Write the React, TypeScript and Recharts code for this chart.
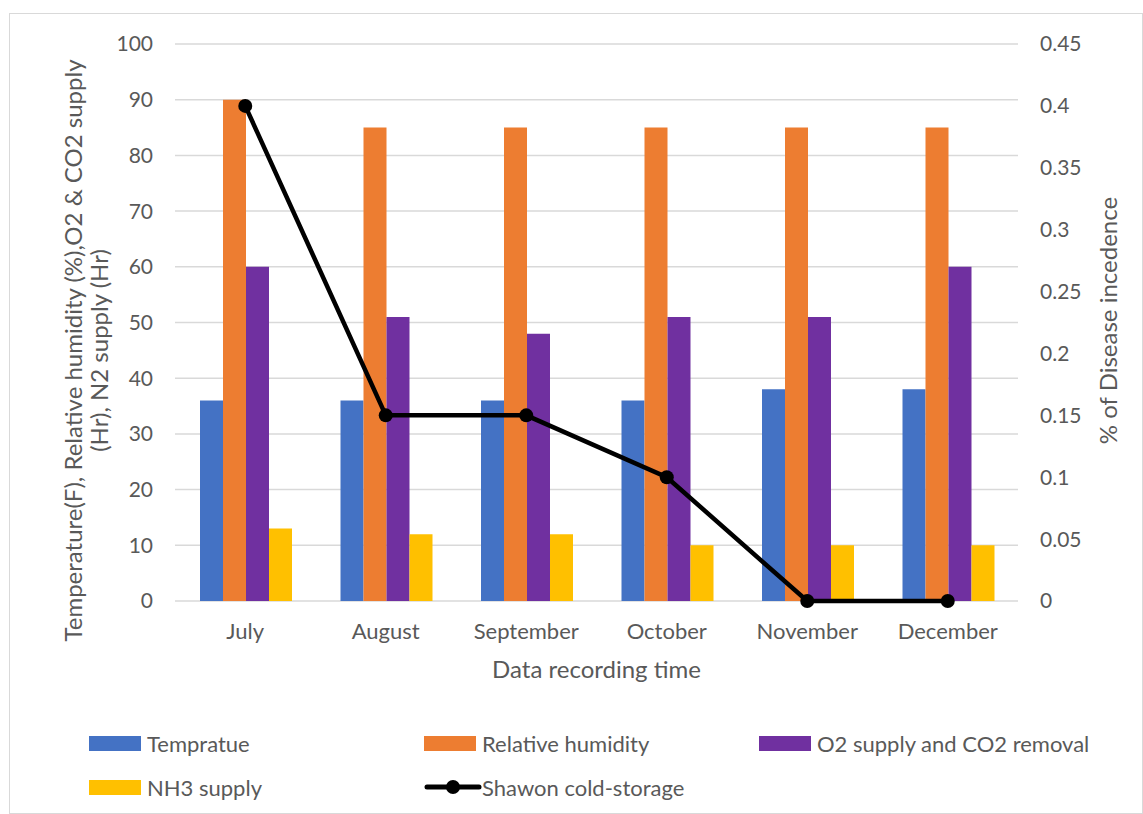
import React from 'react';
import {
  ComposedChart,
  Bar,
  Line,
  XAxis,
  YAxis,
  CartesianGrid,
  Legend,
} from 'recharts';

const months = ['July', 'August', 'September', 'October', 'November', 'December'];
const temperature = [36, 36, 36, 36, 38, 38];
const humidity = [90, 85, 85, 85, 85, 85];
const o2Supply = [60, 51, 48, 51, 51, 60];
const nh3Supply = [13, 12, 12, 10, 10, 10];
const diseaseIncidence = [0.4, 0.15, 0.15, 0.1, 0, 0];

const leftTicks = [0, 10, 20, 30, 40, 50, 60, 70, 80, 90, 100];
const rightTicks = [0, 0.05, 0.1, 0.15, 0.2, 0.25, 0.3, 0.35, 0.4, 0.45];

const data = months.map((month, i) => ({
  month,
  temperature: temperature[i],
  humidity: humidity[i],
  o2: o2Supply[i],
  nh3: nh3Supply[i],
  disease: diseaseIncidence[i],
}));

// series order as the legend shows it
const series = [
  { key: 'temperature', name: 'Tempratue', color: '#4472C4', type: 'bar' },
  { key: 'humidity', name: 'Relative humidity', color: '#ED7D31', type: 'bar' },
  { key: 'o2', name: 'O2 supply and CO2 removal', color: '#7030A0', type: 'bar' },
  { key: 'nh3', name: 'NH3 supply', color: '#FFC000', type: 'bar' },
  { key: 'disease', name: 'Shawon cold-storage', color: '#000000', type: 'line' },
];

const FONT = 'Lato, "Open Sans", sans-serif';
const TEXT = '#595959';
const GRID = '#d9d9d9';

const LeftAxisTitle = (props: any) => {
  const { viewBox } = props;
  const cy = viewBox.y + viewBox.height / 2 + 28;
  return (
    <g>
      <text
        x={72}
        y={cy}
        transform={`rotate(-90, 72, ${cy})`}
        textAnchor="middle"
        dominantBaseline="central"
        fill={TEXT}
        fontSize={24}
        fontFamily={FONT}
      >
        Temperature(F), Relative humidity (%),O2 &amp; CO2 supply
      </text>
      <text
        x={98}
        y={cy}
        transform={`rotate(-90, 98, ${cy})`}
        textAnchor="middle"
        dominantBaseline="central"
        fill={TEXT}
        fontSize={24}
        fontFamily={FONT}
      >
        (Hr), N2 supply (Hr)
      </text>
    </g>
  );
};

const RightAxisTitle = (props: any) => {
  const { viewBox } = props;
  const cy = viewBox.y + viewBox.height / 2 - 2;
  return (
    <text
      x={1107}
      y={cy}
      transform={`rotate(-90, 1107, ${cy})`}
      textAnchor="middle"
      dominantBaseline="central"
      fill={TEXT}
      fontSize={24}
      fontFamily={FONT}
    >
      % of Disease incedence
    </text>
  );
};

const ChartLegend = () => (
  <div
    style={{
      display: 'grid',
      gridTemplateColumns: '335px 335px 335px',
      gridAutoRows: '26px',
      rowGap: 18,
      height: 70,
      paddingLeft: 89,
      fontFamily: FONT,
      fontSize: 22,
      color: TEXT,
    }}
  >
    {series.map((s) => (
      <div key={s.key} style={{ display: 'flex', alignItems: 'center', height: 26 }}>
        {s.type === 'line' ? (
          <svg width={58} height={16} style={{ marginRight: 0 }}>
            <line x1={3} y1={8} x2={55} y2={8} stroke={s.color} strokeWidth={5} strokeLinecap="round" />
            <circle cx={29} cy={8} r={7} fill={s.color} />
          </svg>
        ) : (
          <div style={{ width: 52, height: 15, background: s.color, marginRight: 6 }} />
        )}
        <span>{s.name}</span>
      </div>
    ))}
  </div>
);

export default function App() {
  return (
    <div style={{ position: 'absolute', left: 0, top: 0, width: 1143, height: 814, background: '#fff' }}>
      <div
        style={{
          position: 'absolute',
          left: 9,
          top: 13,
          width: 1134,
          height: 801,
          border: `1px solid ${GRID}`,
          boxSizing: 'border-box',
        }}
      />
      <ComposedChart
        width={1143}
        height={814}
        data={data}
        margin={{ top: 44, right: 0, bottom: 53, left: 0 }}
        barGap={0}
        barCategoryGap={25}
        style={{ position: 'absolute', left: 0, top: 0 }}
      >
        <CartesianGrid vertical={false} stroke={GRID} strokeWidth={1.5} yAxisId="left" />
        <XAxis
          dataKey="month"
          tickLine={false}
          axisLine={false}
          tick={{ fill: TEXT, fontSize: 22, fontFamily: FONT }}
          tickMargin={16}
          height={90}
          label={{
            value: 'Data recording time',
            position: 'insideTop',
            offset: 60,
            fill: TEXT,
            fontSize: 24,
            fontFamily: FONT,
          }}
        />
        <YAxis
          yAxisId="left"
          domain={[0, 100]}
          ticks={leftTicks}
          width={175}
          axisLine={false}
          tickLine={false}
          tickMargin={16}
          tick={{ fill: TEXT, fontSize: 21, fontFamily: FONT }}
          label={<LeftAxisTitle />}
        />
        <YAxis
          yAxisId="right"
          orientation="right"
          domain={[0, 0.45]}
          ticks={rightTicks}
          width={125}
          axisLine={false}
          tickLine={false}
          tickMargin={16}
          tick={{ fill: TEXT, fontSize: 21, fontFamily: FONT, textAnchor: 'start' }}
          label={<RightAxisTitle />}
        />
        <Legend
          verticalAlign="bottom"
          content={<ChartLegend />}
          wrapperStyle={{ top: 730, left: 0, bottom: 'auto', width: 1143 }}
        />
        {series
          .filter((s) => s.type === 'bar')
          .map((s) => (
            <Bar
              key={s.key}
              yAxisId="left"
              dataKey={s.key}
              name={s.name}
              fill={s.color}
              isAnimationActive={false}
            />
          ))}
        <Line
          yAxisId="right"
          type="linear"
          dataKey="disease"
          name="Shawon cold-storage"
          stroke="#000"
          strokeWidth={4.5}
          dot={{ r: 7, fill: '#000', stroke: '#000', strokeWidth: 0 }}
          activeDot={false}
          isAnimationActive={false}
        />
      </ComposedChart>
    </div>
  );
}
